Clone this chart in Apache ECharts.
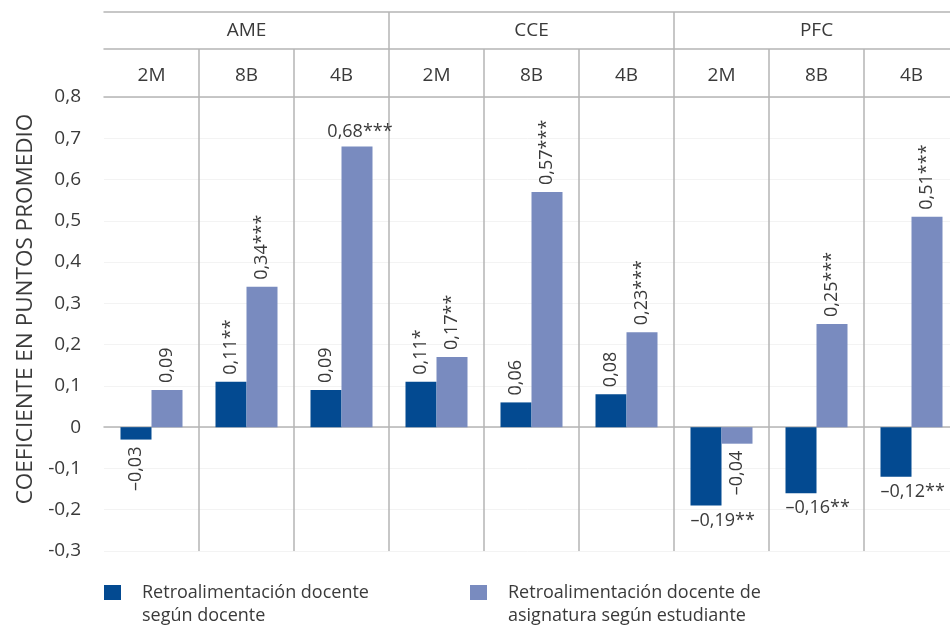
<!DOCTYPE html>
<html><head><meta charset="utf-8">
<script src="https://cdn.jsdelivr.net/npm/echarts@6/dist/echarts.min.js"></script>
<style>html,body{margin:0;padding:0;background:#fff}#c{width:950px;height:626px}</style>
</head><body><div id="c"></div>
<script>
// ---- data ----
const groups = ['AME', 'CCE', 'PFC'];
const categories = ['2M', '8B', '4B', '2M', '8B', '4B', '2M', '8B', '4B'];
const yMin = -0.3, yMax = 0.8, yInterval = 0.1;
const yTitle = 'COEFICIENTE EN PUNTOS PROMEDIO';
const seriesNames = ['Retroalimentación docente según docente', 'Retroalimentación docente de asignatura según estudiante'];
const legendTexts = ['Retroalimentación docente\nsegún docente', 'Retroalimentación docente de\nasignatura según estudiante'];
const docente = [-0.03, 0.11, 0.09, 0.11, 0.06, 0.08, -0.19, -0.16, -0.12];
const docenteSig = ['', '**', '', '*', '', '', '**', '**', '**'];
const estudiante = [0.09, 0.34, 0.68, 0.17, 0.57, 0.23, -0.04, 0.25, 0.51];
const estudianteSig = ['', '***', '***', '**', '***', '***', '', '***', '***'];

// ---- style config ----
const FONT = '"Open Sans", "Noto Sans", sans-serif';
const TXT = '#3a3a3a';
const GRAY = '#b5b5b5';
const DARK = '#034a91';
const LIGHT = '#798bbf';
const flatLabels = [[6, 7, 8], [2]];
const lineStyle = { color: GRAY, width: 1.5 };

function fmt(v) { return (v < 0 ? '–' : '') + Math.abs(v).toFixed(2).replace('.', ','); }
function makeData(vals, sig, sIdx) {
  return vals.map((v, i) => {
    const flat = flatLabels[sIdx].indexOf(i) >= 0;
    const neg = v < 0;
    let lab;
    if (flat) {
      lab = neg
        ? { position: 'bottom', distance: 6, rotate: 0, align: 'left', verticalAlign: 'top', offset: [-15.5, 0] }
        : { position: 'top', distance: 6, rotate: 0, align: 'center', verticalAlign: 'bottom', offset: [3, 0] };
    } else {
      lab = { position: neg ? 'bottom' : 'top', distance: 7, rotate: 90, align: neg ? 'right' : 'left', verticalAlign: 'middle' };
    }
    lab.formatter = fmt(v) + sig[i];
    return { value: v, label: lab };
  });
}

const chart = echarts.init(document.getElementById('c'), null, { renderer: 'canvas' });
const gridBase = { left: 104, width: 855, containLabel: false, outerBoundsMode: 'none' };
const option = {
  animation: false,
  backgroundColor: '#fff',
  textStyle: { fontFamily: FONT, color: TXT },
  grid: [
    Object.assign({ top: 97, height: 454 }, gridBase),
    Object.assign({ top: 49, height: 48 }, gridBase),
    Object.assign({ top: 12, height: 37 }, gridBase)
  ],
  xAxis: [
    { gridIndex: 0, type: 'category', data: categories, position: 'bottom',
      axisLine: { show: true, onZero: true, lineStyle: lineStyle },
      axisTick: { show: false }, axisLabel: { show: false },
      splitLine: { show: true, showMinLine: false, interval: 0, lineStyle: lineStyle } },
    { gridIndex: 1, type: 'category', data: categories, position: 'bottom',
      axisLine: { show: true, onZero: false, lineStyle: lineStyle },
      axisTick: { show: false },
      axisLabel: { show: true, inside: true, margin: 21, interval: 0, verticalAlign: 'middle', fontSize: 19, color: TXT, fontFamily: FONT },
      splitLine: { show: true, showMinLine: false, interval: 0, lineStyle: lineStyle } },
    { gridIndex: 2, type: 'category', data: groups, position: 'bottom',
      axisLine: { show: true, onZero: false, lineStyle: lineStyle },
      axisTick: { show: false },
      axisLabel: { show: true, inside: true, margin: 18, interval: 0, verticalAlign: 'middle', fontSize: 19, color: TXT, fontFamily: FONT },
      splitLine: { show: true, showMinLine: false, interval: 0, lineStyle: lineStyle } },
    { gridIndex: 2, type: 'category', data: groups, position: 'top',
      axisLine: { show: true, onZero: false, lineStyle: lineStyle },
      axisTick: { show: false }, axisLabel: { show: false }, splitLine: { show: false } }
  ],
  yAxis: [
    { gridIndex: 0, type: 'value', min: yMin, max: yMax, interval: yInterval,
      name: yTitle, nameLocation: 'middle', nameGap: 64, nameRotate: 90,
      nameTextStyle: { fontSize: 22.5, color: TXT, fontFamily: FONT, padding: [0, 0, 0, 30] },
      axisLine: { show: false }, axisTick: { show: false },
      axisLabel: { fontSize: 19, color: TXT, fontFamily: FONT, margin: 23,
        formatter: v => Math.abs(v) < 1e-9 ? '0' : v.toFixed(1).replace('.', ',') },
      splitLine: { show: true, lineStyle: { color: '#f3f3f3', width: 1 } } },
    { gridIndex: 1, type: 'value', show: false },
    { gridIndex: 2, type: 'value', show: false }
  ],
  legend: [
    { data: [seriesNames[0]], left: 104, top: 558, padding: 0, icon: 'rect', itemWidth: 17, itemHeight: 15,
      formatter: () => '\n' + legendTexts[0],
      textStyle: { fontSize: 18, lineHeight: 23, color: TXT, fontFamily: FONT, padding: [0, 0, 0, 16] } },
    { data: [seriesNames[1]], left: 470, top: 558, padding: 0, icon: 'rect', itemWidth: 17, itemHeight: 15,
      formatter: () => '\n' + legendTexts[1],
      textStyle: { fontSize: 18, lineHeight: 23, color: TXT, fontFamily: FONT, padding: [0, 0, 0, 16] } }
  ],
  series: [
    { name: seriesNames[0], type: 'bar', xAxisIndex: 0, yAxisIndex: 0, barWidth: 31, barGap: '0%',
      itemStyle: { color: DARK },
      label: { show: true, fontSize: 18, color: TXT, fontFamily: FONT },
      data: makeData(docente, docenteSig, 0) },
    { name: seriesNames[1], type: 'bar', xAxisIndex: 0, yAxisIndex: 0, barWidth: 31, barGap: '0%',
      itemStyle: { color: LIGHT },
      label: { show: true, fontSize: 18, color: TXT, fontFamily: FONT },
      data: makeData(estudiante, estudianteSig, 1) }
  ]
};
chart.setOption(option);
</script>
</body></html>
